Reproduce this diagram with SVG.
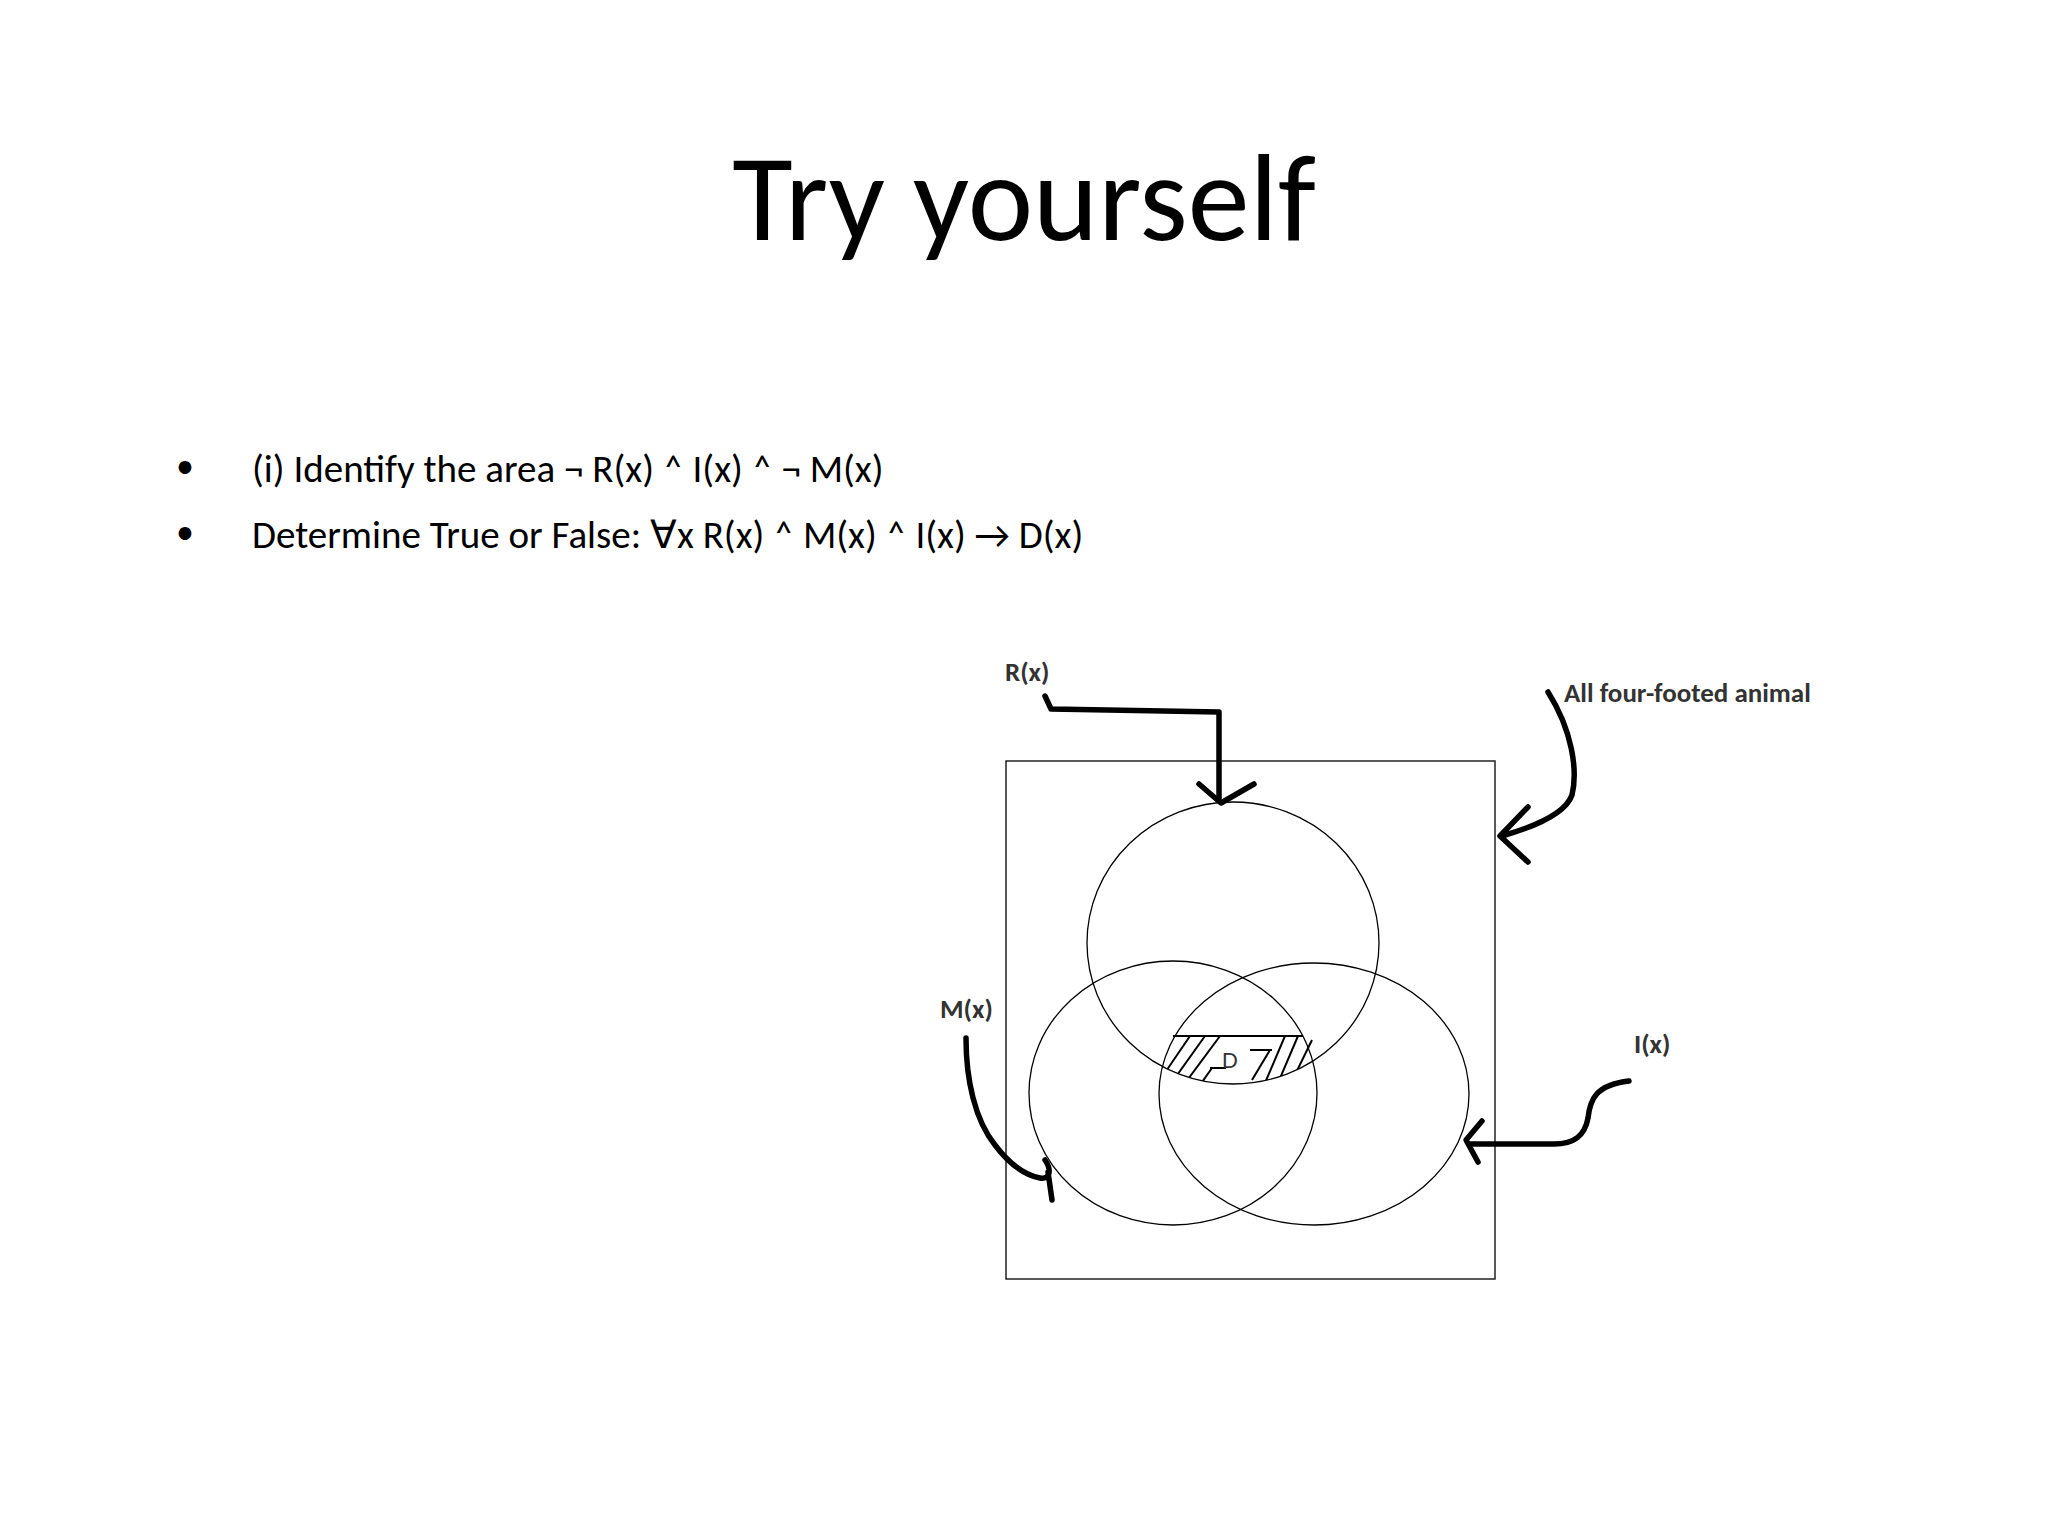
<svg xmlns="http://www.w3.org/2000/svg" width="2048" height="1536" viewBox="0 0 2048 1536">
<style>
.t{font-family:Carlito,Lato,"Open Sans",sans-serif;fill:#000}
.lb{font-family:Carlito,Lato,"Liberation Sans",sans-serif;font-weight:bold;fill:#333;font-size:27px}
.c{fill:none;stroke:#000;stroke-width:1.3}
.a{fill:none;stroke:#000;stroke-width:5.5;stroke-linecap:round;stroke-linejoin:round}
.h{stroke:#000;stroke-width:2}
</style>
<defs>
<clipPath id="dc"><ellipse cx="1233" cy="943" rx="146" ry="141"/></clipPath>
</defs>
<rect width="2048" height="1536" fill="#fff"/>
<text class="t" x="1024" y="240" font-size="124" text-anchor="middle">Try yourself</text>
<g id="bullets">
<text class="t" x="176" y="478" font-size="36">•</text>
<text class="t" x="176" y="544" font-size="36">•</text>
<text class="t" x="252" y="482" font-size="39">(i) Identify the area   ¬ R(x) ˄ I(x) ˄  ¬ M(x)</text>
<text class="t" x="252" y="548" font-size="39">Determine True or False: ∀x  R(x) ˄ M(x) ˄  I(x) →  D(x)</text>
</g>
<g id="universe"><rect x="1006" y="761" width="489" height="518" class="c" stroke-width="2"/></g>
<g id="R"><ellipse cx="1233" cy="943" rx="146" ry="141" class="c"/></g>
<g id="M"><ellipse cx="1173" cy="1093" rx="144" ry="132" class="c"/></g>
<g id="I"><ellipse cx="1314" cy="1094" rx="155" ry="131" class="c"/></g>
<g id="D">
<line x1="1173" y1="1036" x2="1303" y2="1036" class="h" stroke-width="3"/>
<g clip-path="url(#dc)">
<rect x="1160" y="1036" width="160" height="60" fill="none"/>
<g class="h">
<line x1="1160" y1="1080" x2="1190" y2="1036"/>
<line x1="1170" y1="1085" x2="1205" y2="1036"/>
<line x1="1180" y1="1090" x2="1220" y2="1036"/>
<line x1="1195" y1="1092" x2="1212" y2="1068"/>
<line x1="1252" y1="1080" x2="1270" y2="1050"/>
<line x1="1262" y1="1090" x2="1285" y2="1036"/>
<line x1="1275" y1="1090" x2="1298" y2="1036"/>
<line x1="1290" y1="1085" x2="1312" y2="1040"/>
<line x1="1250" y1="1050" x2="1272" y2="1050"/>
<line x1="1210" y1="1068" x2="1226" y2="1068"/>
</g>
</g>
<text x="1230" y="1068" font-family="Liberation Sans,sans-serif" font-size="22" text-anchor="middle" fill="#333">D</text>
</g>
<g id="labels">
<text class="lb" x="1005" y="681">R(x)</text>
<text class="lb" x="1564" y="702">All four-footed animal</text>
<text class="lb" x="940" y="1018">M(x)</text>
<text class="lb" x="1634" y="1053">I(x)</text>
</g>
<g id="connectors">
<path class="a" d="M1045,696 L1051,709 L1219,712 L1219,799"/>
<path class="a" d="M1199,784 L1221,803 L1254,784"/>
<path class="a" d="M1548,692 C1572,730 1578,770 1572,795 C1565,815 1530,828 1502,836"/>
<path class="a" d="M1528,807 L1500,836 L1528,862"/>
<path class="a" d="M966,1038 C966,1080 975,1120 995,1145 C1010,1165 1025,1175 1040,1178 C1050,1180 1052,1170 1045,1160 M1048,1172 L1052,1200"/>
<path class="a" d="M1629,1081 C1595,1085 1590,1100 1588,1118 C1585,1135 1575,1144 1554,1144 L1470,1144"/>
<path class="a" d="M1482,1121 L1466,1140 L1478,1162"/>
</g>
</svg>
